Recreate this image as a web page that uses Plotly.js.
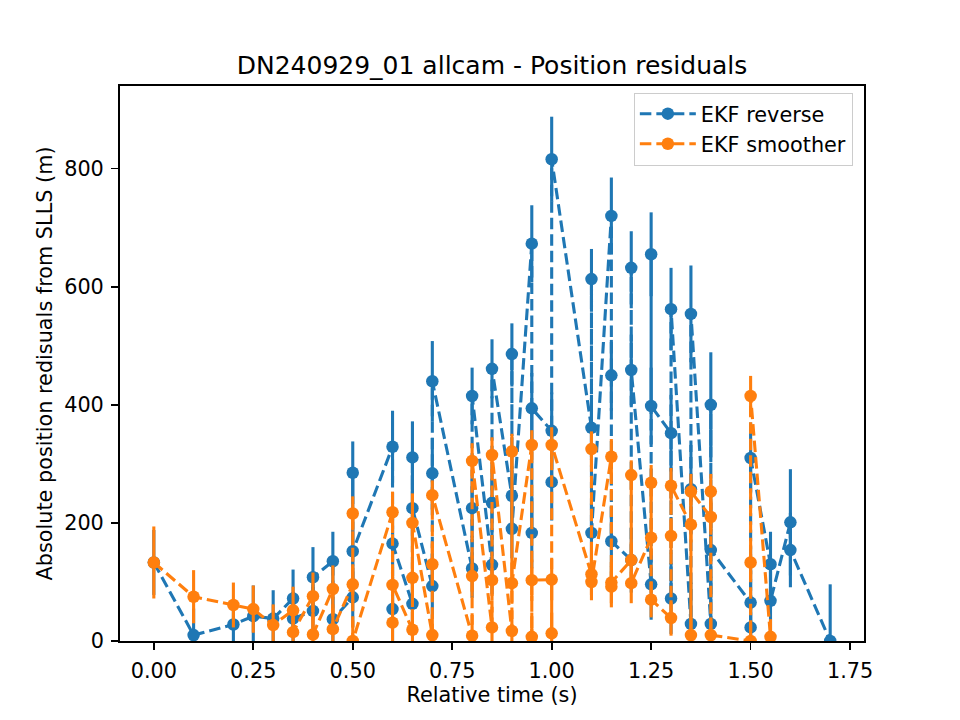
<!DOCTYPE html>
<html>
<head>
<meta charset="utf-8">
<script src="https://cdn.plot.ly/plotly-3.0.1.min.js"></script>
<style>
  html, body { margin: 0; padding: 0; background: #ffffff; }
  #chart { width: 960px; height: 720px; }
</style>
</head>
<body>
<div id="chart"></div>
<script>
// EKF reverse: residual against SLLS, in the order the samples were logged
const reverseTime = [
  0.00, 0.10, 0.20, 0.25, 0.30,
  0.35, 0.35, 0.40, 0.40, 0.45, 0.45,
  0.50, 0.50, 0.50, 0.60, 0.60, 0.60,
  0.65, 0.65, 0.65, 0.70, 0.70, 0.70,
  0.80, 0.80, 0.80, 0.85, 0.85, 0.85,
  0.90, 0.90, 0.90, 0.95, 0.95, 0.95,
  1.00, 1.00, 1.00, 1.10, 1.10, 1.10,
  1.15, 1.15, 1.15, 1.20, 1.20, 1.20,
  1.25, 1.25, 1.25, 1.30, 1.30, 1.30,
  1.35, 1.35, 1.35, 1.40, 1.40, 1.40,
  1.50, 1.50, 1.50, 1.55, 1.55,
  1.60, 1.60, 1.70
];
const reverseResidual = [
  133, 10, 28, 42, 38,
  72, 38, 51, 108, 135, 37,
  74, 285, 152, 329, 54, 165,
  63, 311, 225, 93, 284, 440,
  123, 225, 415, 129, 234, 461,
  246, 486, 190, 673, 183, 394,
  356, 269, 816, 361, 613, 183,
  720, 450, 169, 137, 632, 459,
  96, 655, 398, 352, 72, 562,
  29, 257, 554, 29, 400, 154,
  65, 23, 310, 130, 68,
  201, 154, 0
];
const reverseError = [
  55, 45, 40, 52, 48,
  49, 45, 45, 51, 50, 45,
  50, 53, 50, 61, 55, 55,
  55, 61, 55, 55, 60, 68,
  50, 50, 48, 50, 50, 50,
  50, 52, 50, 65, 60, 60,
  65, 65, 72, 50, 51, 50,
  65, 60, 60, 55, 62, 60,
  60, 71, 65, 65, 60, 70,
  70, 75, 82, 80, 89, 80,
  55, 55, 60, 55, 50,
  90, 63, 96
];

// EKF smoother: residual against SLLS
const smootherTime = [
  0.00, 0.10, 0.20, 0.25, 0.30,
  0.35, 0.35, 0.40, 0.40, 0.45, 0.45,
  0.50, 0.50, 0.50, 0.60, 0.60, 0.60,
  0.65, 0.65, 0.65, 0.70, 0.70, 0.70,
  0.80, 0.80, 0.80, 0.85, 0.85, 0.85,
  0.90, 0.90, 0.90, 0.95, 0.95, 0.95,
  1.00, 1.00, 1.00, 1.10, 1.10, 1.10,
  1.15, 1.15, 1.15, 1.20, 1.20, 1.20,
  1.25, 1.25, 1.25, 1.30, 1.30, 1.30,
  1.35, 1.35, 1.35, 1.40, 1.40, 1.40,
  1.50, 1.50, 1.50, 1.55
];
const smootherResidual = [
  133, 75, 61, 54, 27,
  52, 15, 76, 11, 88, 20,
  96, 216, 0, 218, 31, 95,
  19, 107, 200, 10, 130, 247,
  9, 110, 305, 23, 103, 315,
  17, 321, 98, 332, 7, 103,
  104, 13, 332, 113, 325, 100,
  312, 92, 99, 137, 281, 98,
  175, 268, 70, 39, 178, 263,
  197, 10, 253, 210, 253, 10,
  0, 133, 415, 7
];
const smootherError = [
  61, 45, 38, 40, 35,
  40, 35, 40, 35, 40, 35,
  30, 29, 35, 35, 35, 35,
  35, 35, 50, 35, 35, 25,
  35, 35, 30, 35, 35, 30,
  35, 30, 35, 25, 35, 35,
  35, 35, 30, 35, 30, 31,
  30, 35, 35, 30, 25, 34,
  30, 30, 30, 30, 30, 30,
  30, 30, 30, 30, 30, 30,
  30, 30, 34, 30
];

const xTickValues = [0, 0.25, 0.5, 0.75, 1.0, 1.25, 1.5, 1.75];
const yTickValues = [0, 200, 400, 600, 800];

const FONT = 'DejaVu Sans, sans-serif';
const BLUE = '#1f77b4';
const ORANGE = '#ff7f0e';
const LABEL_SIZE = 20.8;

function series(name, x, y, err, color) {
  return {
    type: 'scatter',
    mode: 'lines+markers',
    name: name,
    x: x,
    y: y,
    line: { color: color, width: 3.1, dash: '11.5px,5px' },
    marker: { color: color, size: 12.5 },
    error_y: { type: 'data', array: err, visible: true, color: color, thickness: 3.1, width: 0 },
    cliponaxis: true
  };
}

const traces = [
  series('EKF reverse', reverseTime, reverseResidual, reverseError, BLUE),
  series('EKF smoother', smootherTime, smootherResidual, smootherError, ORANGE)
];

const axisCommon = {
  showline: true,
  linecolor: '#000000',
  linewidth: 1.67,
  mirror: true,
  showgrid: false,
  zeroline: false,
  ticks: 'outside',
  ticklen: 7.3,
  tickwidth: 1.67,
  tickcolor: '#000000',
  ticklabelstandoff: 3,
  tickfont: { family: FONT, size: LABEL_SIZE, color: '#000000' }
};

const layout = {
  width: 960,
  height: 720,
  margin: { l: 120, r: 96, t: 86, b: 79 },
  paper_bgcolor: '#ffffff',
  plot_bgcolor: '#ffffff',
  font: { family: FONT, size: LABEL_SIZE, color: '#000000' },
  title: {
    text: 'DN240929_01 allcam - Position residuals',
    font: { family: FONT, size: 25, color: '#000000' },
    xref: 'paper', x: 0.5, xanchor: 'center',
    y: 1 - 65 / 720, yanchor: 'middle', yref: 'container'
  },
  xaxis: Object.assign({}, axisCommon, {
    range: [-0.085, 1.785],
    tickvals: xTickValues,
    ticktext: xTickValues.map(v => v.toFixed(2)),
    title: { text: 'Relative time (s)', font: { family: FONT, size: LABEL_SIZE, color: '#000000' }, standoff: 4 }
  }),
  yaxis: Object.assign({}, axisCommon, {
    range: [0, 940],
    tickvals: yTickValues,
    ticktext: yTickValues.map(v => String(v)),
    title: { text: 'Absolute position redisuals from SLLS (m)', font: { family: FONT, size: LABEL_SIZE, color: '#000000' }, standoff: 6 }
  }),
  showlegend: true,
  legend: {
    x: 0.985, xanchor: 'right',
    y: 0.988, yanchor: 'top',
    bgcolor: 'rgba(255,255,255,0.8)',
    bordercolor: '#cccccc',
    borderwidth: 1,
    font: { family: FONT, size: LABEL_SIZE, color: '#000000' },
    itemwidth: 56,
    tracegroupgap: 2
  }
};

Plotly.newPlot('chart', traces, layout, { displayModeBar: false, staticPlot: true });
</script>
</body>
</html>
